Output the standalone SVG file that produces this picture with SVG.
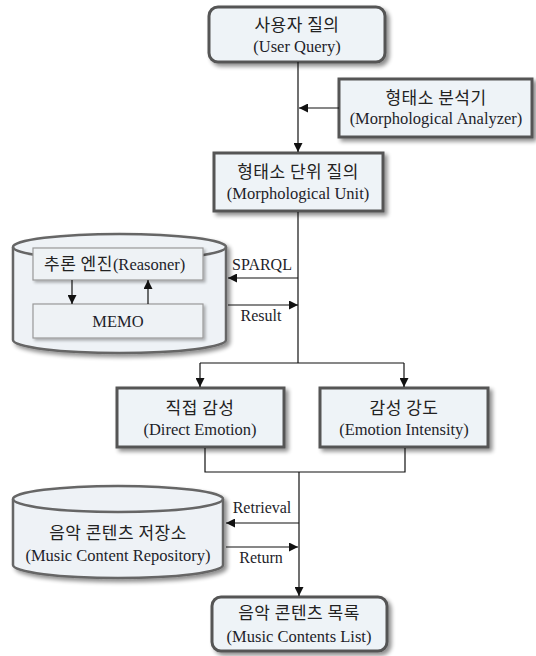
<svg xmlns="http://www.w3.org/2000/svg" width="536" height="656" viewBox="0 0 536 656">
<defs>
<marker id="ah" viewBox="0 0 10 10" refX="10" refY="5" markerWidth="9" markerHeight="9" markerUnits="userSpaceOnUse" orient="auto">
<path d="M0,0 L10,5 L0,10 Z" fill="#111"/>
</marker>
<filter id="sh" x="-10%" y="-10%" width="130%" height="140%">
<feGaussianBlur in="SourceAlpha" stdDeviation="2"/>
<feOffset dx="3" dy="3" result="b"/>
<feComponentTransfer><feFuncA type="linear" slope="0.45"/></feComponentTransfer>
<feMerge><feMergeNode/><feMergeNode in="SourceGraphic"/></feMerge>
</filter>
<filter id="sh2" x="-10%" y="-10%" width="130%" height="140%">
<feGaussianBlur in="SourceAlpha" stdDeviation="1.5"/>
<feOffset dx="2" dy="2" result="b"/>
<feComponentTransfer><feFuncA type="linear" slope="0.3"/></feComponentTransfer>
<feMerge><feMergeNode/><feMergeNode in="SourceGraphic"/></feMerge>
</filter>
</defs>
<style>
.box{fill:#eef3f7;stroke:#555;stroke-width:3;filter:url(#sh)}
.cyl{fill:#eef2f6;stroke:#666;stroke-width:2.5;filter:url(#sh)}
.inner{fill:#eef2f5;stroke:#999;stroke-width:1.2;filter:url(#sh2)}
.ko{font-family:"Noto Sans CJK KR","Noto Sans",sans-serif;font-size:17px;letter-spacing:0.5px;fill:#222;text-anchor:middle}
.en{font-family:"Liberation Serif","Times New Roman",serif;font-size:16.5px;fill:#1e1e2a;text-anchor:middle}
.lbl{font-family:"Liberation Serif","Times New Roman",serif;font-size:16px;fill:#1e1e2a;text-anchor:middle}
.ln{fill:none;stroke:#111;stroke-width:1.2}
.arr{fill:none;stroke:#111;stroke-width:1.2;marker-end:url(#ah)}
</style>
<rect width="536" height="656" fill="#fff"/>

<g id="user-query">
<rect class="box" x="209" y="7" width="176" height="55" rx="9"/>
<text class="ko" x="297" y="31">사용자 질의</text>
<text class="en" x="297" y="52">(User Query)</text>
</g>

<g id="morph-analyzer">
<rect class="box" x="339" y="79" width="193" height="58"/>
<text class="ko" x="436" y="104">형태소 분석기</text>
<text class="en" x="436" y="124">(Morphological Analyzer)</text>
</g>

<g id="morph-unit">
<rect class="box" x="214" y="153" width="169" height="58"/>
<text class="ko" x="298" y="178">형태소 단위 질의</text>
<text class="en" x="298" y="199">(Morphological  Unit)</text>
</g>

<g id="reasoner-db">
<path class="cyl" d="M13,247 A106.5,13 0 0 1 226,247 L226,340 A106.5,13 0 0 1 13,340 Z"/>
<path d="M13,247 A106.5,13 0 0 0 226,247" fill="none" stroke="#666" stroke-width="2.5"/>
<g id="reasoner">
<rect class="inner" x="33" y="248" width="170" height="32"/>
<text x="44" y="270"><tspan class="ko" style="text-anchor:start">추론 엔진</tspan><tspan class="en" style="text-anchor:start">(Reasoner)</tspan></text>
</g>
<g id="memo">
<rect class="inner" x="33" y="304" width="170" height="34"/>
<text class="en" x="118" y="327">MEMO</text>
</g>
</g>

<g id="direct-emotion">
<rect class="box" x="117" y="388" width="167" height="59"/>
<text class="ko" x="200" y="414">직접 감성</text>
<text class="en" x="200" y="435">(Direct Emotion)</text>
</g>

<g id="emotion-intensity">
<rect class="box" x="320" y="388" width="168" height="59"/>
<text class="ko" x="404" y="414">감성 강도</text>
<text class="en" x="404" y="435">(Emotion Intensity)</text>
</g>

<g id="music-repository">
<path class="cyl" d="M13,499 A105,13 0 0 1 223,499 L223,565 A105,13 0 0 1 13,565 Z"/>
<path d="M13,499 A105,13 0 0 0 223,499" fill="none" stroke="#666" stroke-width="2.5"/>
<text class="ko" x="118" y="539">음악 콘텐츠 저장소</text>
<text class="en" x="118" y="561">(Music Content Repository)</text>
</g>

<g id="music-list">
<rect class="box" x="212" y="597" width="175" height="54" rx="9"/>
<text class="ko" x="299" y="619">음악 콘텐츠 목록</text>
<text class="en" x="299" y="642">(Music Contents List)</text>
</g>

<g id="connectors">
<path class="arr" d="M298,62 L298,152"/>
<path class="arr" d="M339,108 L299,108"/>
<path class="ln" d="M298,212 L298,363"/>
<path class="arr" d="M298,278 L228,278"/>
<path class="arr" d="M228,305 L298,305"/>
<path class="ln" d="M200,363 L404,363"/>
<path class="arr" d="M200,363 L200,387"/>
<path class="arr" d="M404,363 L404,387"/>
<path class="arr" d="M72,280 L72,304"/>
<path class="arr" d="M148,304 L148,280"/>
<path class="ln" d="M205,448 L205,472 L405,472 L405,448"/>
<path class="arr" d="M299,472 L299,596"/>
<path class="arr" d="M299,523 L226,523"/>
<path class="arr" d="M226,547 L298,547"/>
<text class="lbl" x="262" y="270">SPARQL</text>
<text class="lbl" x="261" y="321">Result</text>
<text class="lbl" x="262" y="513">Retrieval</text>
<text class="lbl" x="261" y="563">Return</text>
</g>
</svg>
